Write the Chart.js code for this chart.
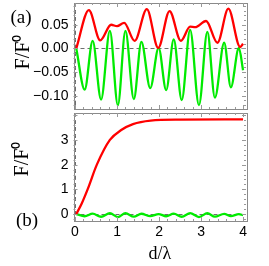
<!DOCTYPE html>
<html><head><meta charset="utf-8">
<script src="https://cdn.jsdelivr.net/npm/chart.js@4/dist/chart.umd.min.js"></script>
<style>
html,body{margin:0;padding:0;background:#fff;overflow:hidden}
#wrap{position:relative;width:269px;height:266px}
canvas{position:absolute;left:0;top:0}
</style></head><body>
<div id="wrap"><canvas id="cTop" width="269" height="266"></canvas><canvas id="cBot" width="269" height="266"></canvas></div>
<script>
// ---- data ----
const redTopX = [0.03, 0.33, 0.60, 0.86, 1.00, 1.17, 1.42, 1.71, 1.98, 2.25, 2.52, 2.74, 2.86, 3.12, 3.39, 3.65, 3.93, 4.00];
const redTopY = [0.000, 0.081, 0.017, 0.050, 0.047, 0.054, 0.016, 0.083, 0.001, 0.079, 0.016, 0.046, 0.045, 0.058, 0.012, 0.084, 0.003, 0.010];
const greenTopX = [0.03, 0.23, 0.42, 0.62, 0.83, 1.02, 1.20, 1.40, 1.58, 1.79, 1.99, 2.17, 2.35, 2.54, 2.74, 2.95, 3.15, 3.33, 3.55, 3.71, 3.90, 4.00];
const greenTopY = [0.000, -0.087, 0.016, -0.108, 0.037, -0.120, 0.037, -0.107, 0.014, -0.084, 0.001, -0.088, 0.019, -0.109, 0.039, -0.120, 0.035, -0.104, 0.012, -0.082, 0.001, -0.046];
const redBotX = [0.03, 0.16, 0.30, 0.52, 0.83, 1.10, 1.38, 1.80, 2.50, 4.00];
const redBotY = [0.00, 0.43, 1.00, 2.00, 3.00, 3.40, 3.64, 3.78, 3.82, 3.83];
const greenBotX = greenTopX;
const greenBotY = greenTopY;
const xTicks = [0, 1, 2, 3, 4];
const yTicksTop = [-0.10, -0.05, 0.00, 0.05];
const yTicksBot = [0, 1, 2, 3];
const panelLabels = ['(a)', '(b)'];
const yTitle = 'F/F\u2070';
const xTitle = 'd/\u03bb';

const RED = 'rgb(255,0,0)', GREEN = 'rgb(0,235,0)';
const pts = (xs, ys) => xs.map((x, i) => ({x: x, y: ys[i]}));
const ds = (xs, ys, c) => ({data: pts(xs, ys), borderColor: c, borderWidth: 2.3, pointRadius: 0,
  cubicInterpolationMode: 'monotone', fill: false});

function framePlugin(cfg) {
  return {
    id: 'frame',
    beforeDatasetsDraw(chart) {
      const {ctx, chartArea: a, scales: {x, y}} = chart;
      ctx.save();
      ctx.strokeStyle = '#6e6e6e'; ctx.lineWidth = 1; ctx.setLineDash([4, 3]);
      const x0 = Math.round(x.getPixelForValue(0)) + 0.5;
      ctx.beginPath(); ctx.moveTo(x0, a.top); ctx.lineTo(x0, a.bottom); ctx.stroke();
      const y0 = Math.round(y.getPixelForValue(0)) + 0.5;
      ctx.beginPath(); ctx.moveTo(a.left, y0); ctx.lineTo(a.right, y0); ctx.stroke();
      ctx.restore();
    },
    afterDraw(chart) {
      const {ctx, chartArea: a, scales: {x, y}} = chart;
      ctx.save();
      ctx.strokeStyle = '#8a8a8a'; ctx.lineWidth = 1;
      ctx.strokeRect(Math.round(a.left) + 0.5, Math.round(a.top) + 0.5, Math.round(a.right - a.left), Math.round(a.bottom - a.top));
      ctx.strokeStyle = '#999';
      ctx.beginPath();
      for (let i = 0; i <= 20; i++) {
        const v = i * 0.2, px = Math.round(x.getPixelForValue(v)) + 0.5;
        const L = (i % 5 === 0) ? 4 : 2;
        ctx.moveTo(px, a.bottom); ctx.lineTo(px, a.bottom - L);
        ctx.moveTo(px, a.top); ctx.lineTo(px, a.top + L);
      }
      for (let i = cfg.yMinorFrom; i <= cfg.yMinorTo; i++) {
        const v = i * cfg.yMinorStep, py = Math.round(y.getPixelForValue(v)) + 0.5;
        if (py < a.top || py > a.bottom) continue;
        const L = (i % cfg.yMajorEvery === 0) ? 4 : 2;
        ctx.moveTo(a.left, py); ctx.lineTo(a.left + L, py);
        ctx.moveTo(a.right, py); ctx.lineTo(a.right - L, py);
      }
      ctx.stroke();
      // texts
      ctx.fillStyle = '#000';
      ctx.font = '19px "Liberation Serif", "Times New Roman", serif';
      ctx.textAlign = 'center'; ctx.textBaseline = 'middle';
      ctx.fillText(cfg.panel, cfg.panelX, cfg.panelY);
      ctx.font = '20px "Liberation Serif", "Times New Roman", serif';
      ctx.save();
      ctx.translate(cfg.titleX, cfg.titleY); ctx.rotate(-Math.PI / 2);
      ctx.fillText(yTitle, 0, 0);
      ctx.restore();
      if (cfg.xTitle) {
        ctx.font = '18px "Liberation Serif", "Times New Roman", serif';
        ctx.fillText(xTitle, (a.left + a.right) / 2, cfg.xTitleY);
      }
      ctx.restore();
    }
  };
}

const fmtTop = v => (v < 0 ? '\u2212' : '') + Math.abs(v).toFixed(2);
const tickFont = {family: '"Liberation Sans", Arial, sans-serif', size: 14};

function yScale(min, max, ticks, fmt) {
  return {
    type: 'linear', position: 'left', min: min, max: max,
    afterBuildTicks: s => { s.ticks = ticks.map(v => ({value: v})); },
    afterFit: s => { s.width = 73.5; s.paddingTop = 0; s.paddingBottom = 0; },
    grid: {display: false, drawTicks: false}, border: {display: false},
    ticks: {color: '#000', font: tickFont, padding: 5, callback: fmt}
  };
}

new Chart(document.getElementById('cTop'), {
  type: 'line',
  data: {datasets: [ds(redTopX, redTopY, RED), ds(greenTopX, greenTopY, GREEN)]},
  options: {
    responsive: false, animation: false, devicePixelRatio: 1,
    layout: {padding: {left: 0, top: 3, right: 23, bottom: 157}},
    plugins: {legend: {display: false}, tooltip: {enabled: false}},
    scales: {
      x: {type: 'linear', min: -0.036, max: 4.07, display: false},
      y: yScale(-0.128, 0.096, yTicksTop, v => fmtTop(v))
    }
  },
  plugins: [framePlugin({panel: panelLabels[0], panelX: 21, panelY: 18, titleX: 24, titleY: 52,
    yMinorFrom: -12, yMinorTo: 9, yMinorStep: 0.01, yMajorEvery: 5})]
});

new Chart(document.getElementById('cBot'), {
  type: 'line',
  data: {datasets: [ds(redBotX, redBotY, RED), ds(greenBotX, greenBotY, GREEN)]},
  options: {
    responsive: false, animation: false, devicePixelRatio: 1,
    layout: {padding: {left: 0, top: 113, right: 23, bottom: 0}},
    plugins: {legend: {display: false}, tooltip: {enabled: false}},
    scales: {
      x: {type: 'linear', min: -0.036, max: 4.07, position: 'bottom',
        afterBuildTicks: s => { s.ticks = xTicks.map(v => ({value: v})); },
        afterFit: s => { s.height = 45; s.paddingLeft = 0; s.paddingRight = 0; },
        grid: {display: false, drawTicks: false}, border: {display: false},
        ticks: {color: '#000', font: tickFont, padding: 3, maxRotation: 0, callback: v => String(v)}},
      y: yScale(-0.28, 4.09, yTicksBot, v => String(v))
    }
  },
  plugins: [framePlugin({panel: panelLabels[1], panelX: 27, panelY: 221, titleX: 23, titleY: 159,
    xTitle: true, xTitleY: 254,
    yMinorFrom: -1, yMinorTo: 20, yMinorStep: 0.2, yMajorEvery: 5})]
});
</script>
</body></html>
